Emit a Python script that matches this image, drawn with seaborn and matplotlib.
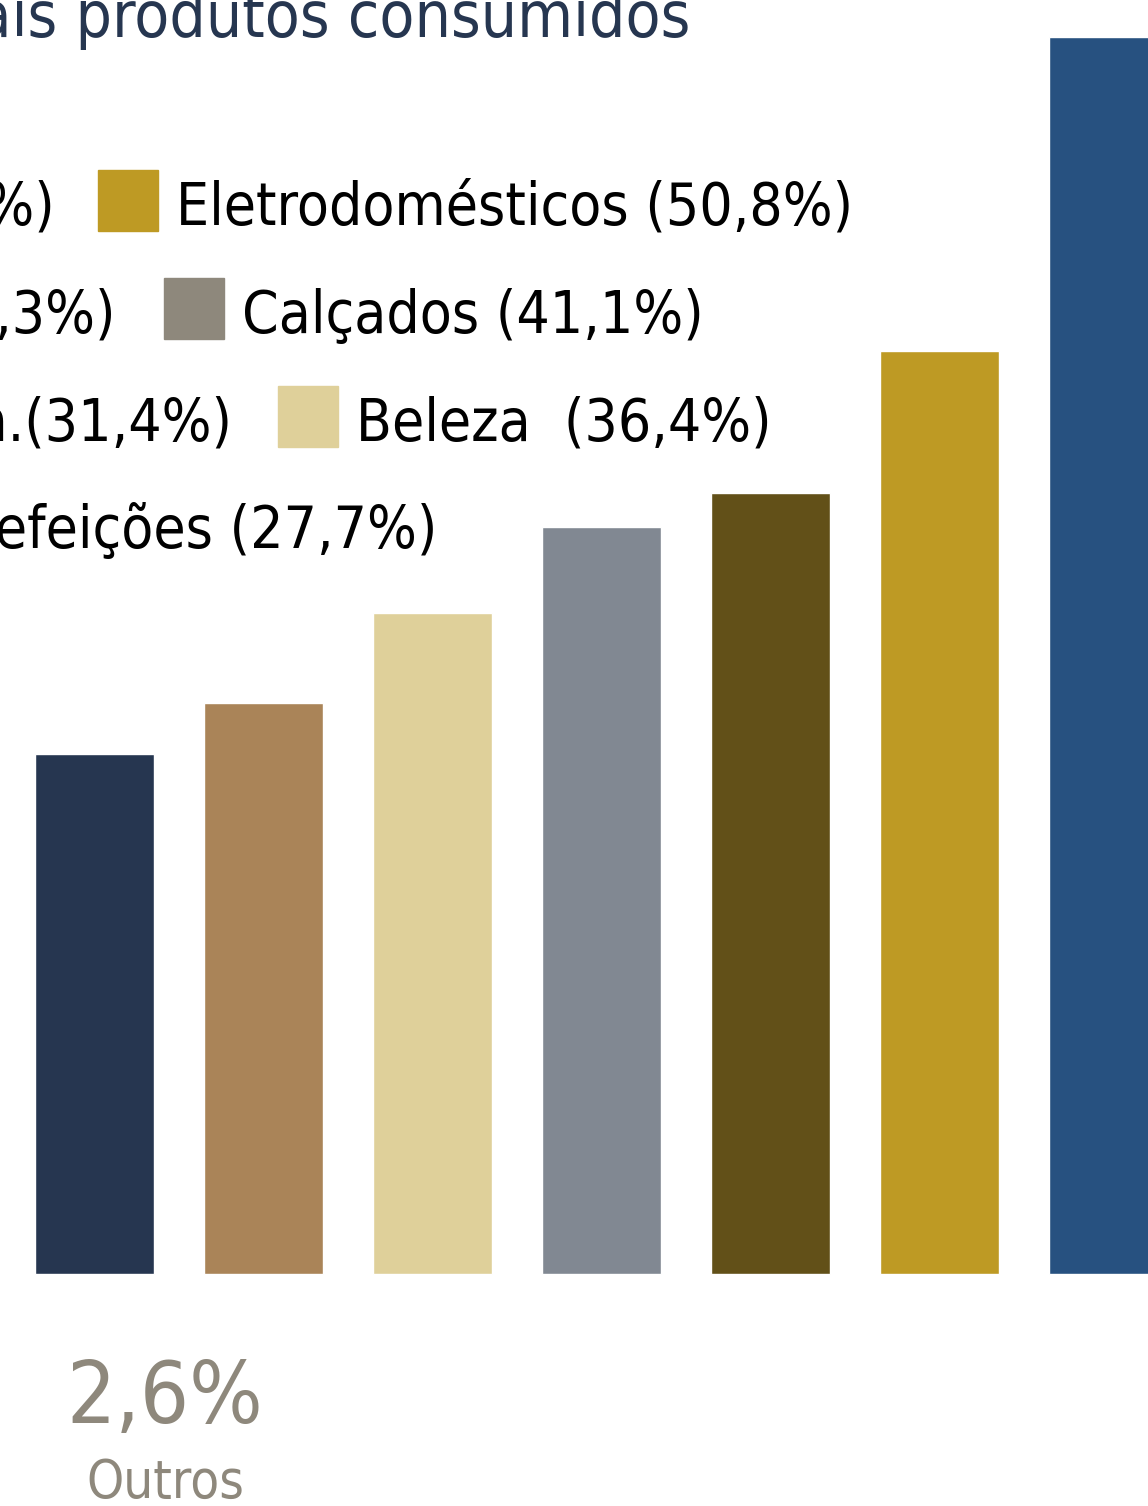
import matplotlib
matplotlib.use("Agg")
import matplotlib.pyplot as plt
from matplotlib.patches import Rectangle
import seaborn as sns
import warnings

warnings.filterwarnings("ignore")
sns.set_theme(style="white")
plt.rcParams['font.family'] = ['DejaVu Sans']
plt.rcParams['font.stretch'] = 'condensed'

# data
categorias = ["Refeições", "Utilidades dom.", "Beleza", "Calçados", "Eletrônicos", "Eletrodomésticos", "Vestuário"]
valores = [28.6, 31.4, 36.4, 41.1, 43.0, 50.8, 68.1]
cores = ["#263650", "#AA8458", "#DFD09A", "#818892", "#625018", "#BE9A24", "#275180"]

legenda_esq = ["Vestuário (68,1%)", "Eletrônicos (43,3%)", "Utilidades dom.(31,4%)", "Refeições (27,7%)"]
legenda_dir = ["Eletrodomésticos (50,8%)", "Calçados (41,1%)", "Beleza  (36,4%)"]
cores_legenda_dir = ["#BE9A24", "#8E887C", "#DFD09A"]

W, H = 1148, 1506
fig = plt.figure(figsize=(W / 100, H / 100), dpi=100)
ax = fig.add_axes([0, 0, 1, 1])

sns.barplot(x=categorias, y=valores, hue=categorias, palette=cores,
            width=119 / 169, legend=False, saturation=1, ax=ax)

# pixel layout: bar centres every 169 px starting at 94.5, baseline at y=1274
ax.set_xlim((0 - 94.5) / 169, (W - 94.5) / 169)
escala = 18.17
ax.set_ylim(-(H - 1274) / escala, 1274 / escala)
ax.axis("off")


def pos(x, y):
    return x / W, 1 - y / H


# title (cut at the left)
fig.text(*pos(690, 37), "Principais produtos consumidos", ha="right", va="baseline",
         fontsize=46, color="#263650")

# custom legend
fs = 42
linhas_y = [225, 333, 440, 548]
fim_esq = [55, 115, 232, 437]
for texto, x, y in zip(legenda_esq, fim_esq, linhas_y):
    fig.text(*pos(x, y), texto, ha="right", va="baseline", fontsize=fs, color="black")

quad_x = [98, 164, 278]
quad_y = [170, 278, 386]
for texto, cor, x, y, yb in zip(legenda_dir, cores_legenda_dir, quad_x, quad_y, linhas_y):
    fig.patches.append(Rectangle(pos(x, y + 61), 60 / W, 61 / H, color=cor,
                                 transform=fig.transFigure, figure=fig))
    fig.text(*pos(x + 78, yb), texto, ha="left", va="baseline", fontsize=fs, color="black")

# "Outros" note
fig.text(*pos(165, 1423), "2,6%", ha="center", va="baseline", fontsize=62, color="#8E887C")
fig.text(*pos(165, 1498), "Outros", ha="center", va="baseline", fontsize=38, color="#8E887C")

fig.savefig("out.png", dpi=100)
